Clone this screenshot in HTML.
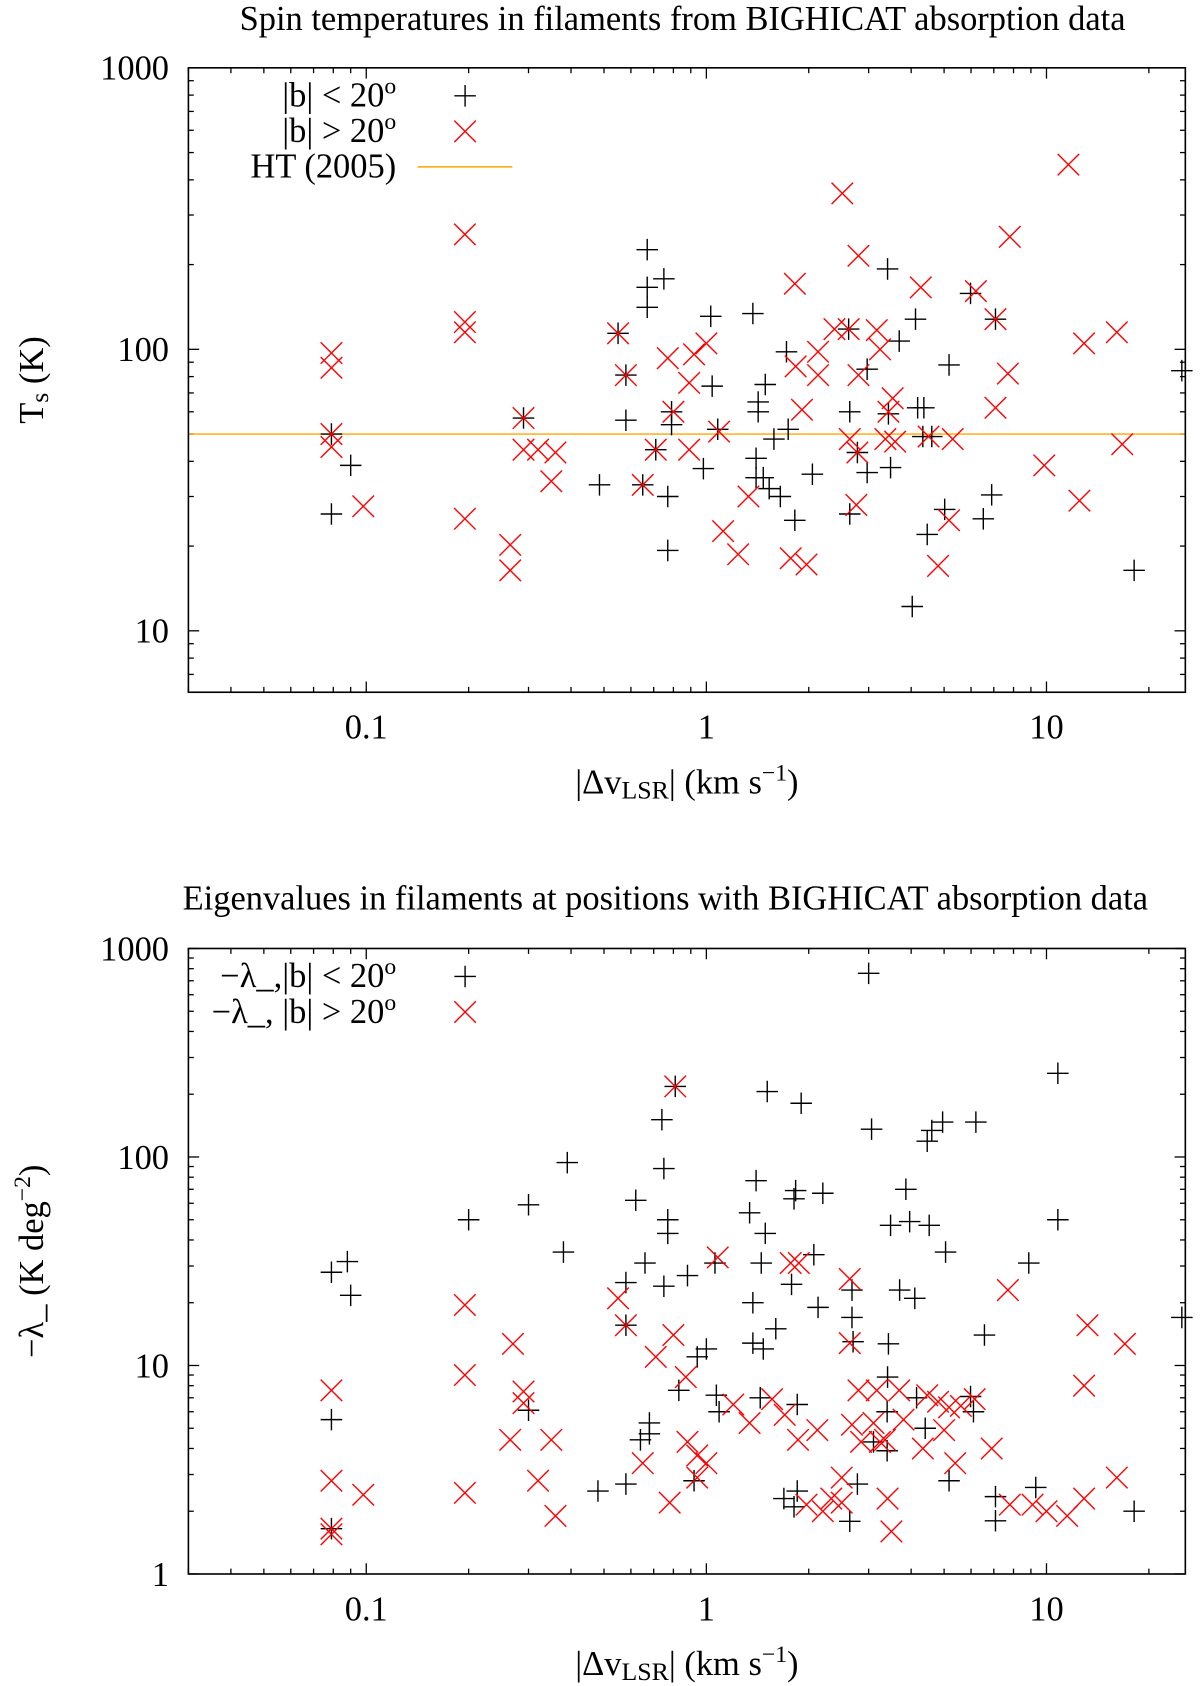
<!DOCTYPE html>
<html><head><meta charset="utf-8">
<style>
html,body{margin:0;padding:0;background:#fff;}
svg{display:block;font-family:"Liberation Serif","DejaVu Serif",serif;}
</style></head>
<body>
<svg id="chart" width="1200" height="1686" viewBox="0 0 1200 1686" xmlns="http://www.w3.org/2000/svg"><g id="root" transform="scale(1.0766)"></g></svg>
<script>
// ---------- data: top panel (spin temperatures) ----------
const topLowX = [0.079,0.079,0.09,0.29,0.485,0.55,0.58,0.58,0.65,0.67,0.67,0.67,0.75,0.71,0.77,0.77,0.79,0.79,0.98,1.03,1.04,1.08,1.37,1.40,1.40,1.42,1.42,1.49,1.47,1.53,1.65,1.58,1.72,1.74,1.82,2.05,2.62,2.64,2.64,2.78,2.97,2.97,3.41,3.43,3.48,3.69,4.12,4.18,4.33,4.36,4.46,4.6,5.17,5.02,4.03,5.98,7.08,6.9,6.52,18.1,25];
const topLowY = [26,50,38.7,57,33,114,81,56,33,226,166,141,178,44,30,19.3,60,54,37.7,131,74,52,134,41,35,65,60,75,35,32,30,48,98,52,24.7,36,118,60,26,43,36.5,85,193,59,38,107,128,62,49,62,22,49,88,27,12.2,158,128,30.4,25,16.4,84];
const topHighX = [0.079,0.079,0.079,0.079,0.098,0.195,0.195,0.195,0.195,0.265,0.265,0.29,0.29,0.32,0.35,0.36,0.55,0.58,0.65,0.71,0.77,0.80,0.89,0.89,0.92,1.0,1.09,1.12,1.24,1.33,1.82,1.77,1.83,1.91,1.97,2.13,2.13,2.38,2.51,2.62,2.64,2.76,2.78,2.8,2.8,3.17,3.24,3.36,3.43,3.53,3.59,4.27,4.5,4.8,5.17,5.3,6.2,7.08,7.08,7.7,7.8,9.85,11.6,12.5,12.9,16.1,16.7];
const topHighY = [97,86,50,45,27.7,256,125,115,25,20.2,16.4,57,44,44,34,43,114,81,33,44,93,60,76,44,96,105,51,22.6,18.7,30,171,18.1,87,61,17.2,81,98,118,358,118,48,28,43,215,81,117,100,48,60,67,47,166,49,17,24.7,48,161,62,128,82,251,38.7,453,29,105,115,46];
const htValue = [50];
// ---------- data: bottom panel (eigenvalues) ----------
const botLowX = [0.079,0.079,0.079,0.088,0.09,0.2,0.3,0.3,0.39,0.38,0.48,0.58,0.58,0.58,0.62,0.64,0.68,0.68,0.66,0.74,0.75,0.75,0.77,0.77,0.81,0.83,0.88,0.94,0.92,1.0,1.06,1.07,1.09,1.34,1.4,1.37,1.37,1.47,1.45,1.49,1.44,1.51,1.6,1.69,1.81,1.81,1.83,1.78,1.85,1.85,1.9,2.07,2.13,2.2,2.68,2.68,2.7,2.78,2.64,3.0,3.06,3.1,3.4,3.4,3.48,3.43,3.41,3.7,3.86,3.96,4.1,4.15,4.46,4.6,4.52,4.4,4.95,5.05,5.17,5.98,6.1,6.2,6.57,7.08,7.08,8.87,9.3,10.8,10.8,18.1,25];
const botLowY = [28,5.5,1.65,31.5,21.7,50,59,6.1,94,35,2.5,25,15.6,2.7,62,4.4,4.7,5.3,31,151,88,24,50,43,218,7.6,27,11,2.8,12,31,7.2,6,54,77,20,12.8,12,31,43,7,206,15,2.3,2.1,63,69,24.5,6.5,2.5,181,34,19,67,23,17,13,2.7,1.79,760,136,4.3,6,3.9,47,12.7,8.8,23,70,49,21,7,119,134,47,5,147,35,2.8,7.1,6,147,14,2.35,1.8,31,2.6,252,50,2.0,17];
const botHighX = [0.079,0.079,0.079,0.079,0.098,0.195,0.195,0.195,0.265,0.27,0.29,0.29,0.32,0.35,0.36,0.55,0.58,0.65,0.71,0.78,0.81,0.8,0.87,0.88,0.94,0.94,1.0,1.08,1.2,1.34,1.56,1.7,1.77,1.86,1.87,1.97,2.12,2.2,2.33,2.5,2.5,2.64,2.64,2.68,2.8,2.85,3.17,3.1,3.24,3.35,3.41,3.5,3.69,3.8,4.33,4.46,4.8,5.0,5.17,5.39,5.6,6.15,6.9,7.7,7.8,9.1,10,11.5,12.9,12.9,13.2,16.1,17];
const botHighY = [7.6,2.8,1.65,1.55,2.4,19.5,9,2.45,4.4,12.7,7.5,6.6,2.8,4.4,1.9,21,15.6,3.4,11,2.2,218,14,8.8,4.3,2.9,3.7,3.4,33,6.5,5.3,6.9,5.8,31,4.4,31,2.15,4.9,2.0,2.3,2.9,2.2,26,12.8,5.2,7.6,4.3,7.6,5.3,4.3,4.4,2.3,1.6,7.6,5.5,4,7.2,6.7,4.9,6.3,3.4,6.4,6.9,4,23,2.15,2.15,2.0,1.9,2.3,8,15.6,2.9,12.7];
const xTickVals = [0.1,1,10];
const xTickLabels = ["0.1","1","10"];
const topYTickVals = [10,100,1000];
const topYTickLabels = ["10","100","1000"];
const botYTickVals = [1,10,100,1000];
const botYTickLabels = ["1","10","100","1000"];

const NS = "http://www.w3.org/2000/svg";
const svg = document.getElementById('root');
const FS = 32;
function mk(tag, attrs, parent){
  const e = document.createElementNS(NS, tag);
  for (const k in attrs) e.setAttribute(k, attrs[k]);
  (parent||svg).appendChild(e);
  return e;
}
function panel(cfg){
  const g = mk('g', {});
  
  
  const L=175, R=1101, T=cfg.top, B=cfg.bottom;
  const xmin=Math.log10(0.03), xmax=Math.log10(25.6);
  const ymin=Math.log10(cfg.ymin), ymax=Math.log10(cfg.ymax);
  const sx = v => L + (Math.log10(v)-xmin)/(xmax-xmin)*(R-L);
  const sy = v => B - (Math.log10(v)-ymin)/(ymax-ymin)*(B-T);
  const t = mk('text', {x:(L+R)/2+(cfg.titleDx||0), y:cfg.titleY, 'text-anchor':'middle', 'font-size':FS, fill:'#000'}, g);
  t.textContent = cfg.title;
  
  
  const tk = mk('g', {stroke:'#000','stroke-width':1.2}, g);
  
  
  for (let d=-2; d<=2; d++){
    for (let m=1; m<10; m++){
      const v = m*Math.pow(10,d);
      if (v<0.03||v>25.6) continue;
      const x = sx(v), len = m===1?10:5;
      mk('line',{x1:x,x2:x,y1:B,y2:B-len},tk);
      mk('line',{x1:x,x2:x,y1:T,y2:T+len},tk);
    }
  }
  for (let d=0; d<=3; d++){
    for (let m=1; m<10; m++){
      const v = m*Math.pow(10,d);
      if (v<cfg.ymin-1e-9||v>cfg.ymax+1e-9) continue;
      const y = sy(v), len = m===1?10:5;
      mk('line',{x1:L,x2:L+len,y1:y,y2:y},tk);
      mk('line',{x1:R,x2:R-len,y1:y,y2:y},tk);
    }
  }
  xTickVals.forEach((v,i)=>{
    const e = mk('text',{x:sx(v),y:B+43,'text-anchor':'middle','font-size':FS},g);
    e.textContent = xTickLabels[i];
    
    
  });
  cfg.yTickVals.forEach((v,i)=>{
    const e = mk('text',{x:157,y:sy(v)+11,'text-anchor':'end','font-size':FS},g);
    e.textContent = cfg.yTickLabels[i];
    
    
  });
  if (cfg.ht){
    const hl = mk('line',{x1:L,x2:R,y1:sy(cfg.ht[0]),y2:sy(cfg.ht[0]),stroke:'#ffa500','stroke-width':1.3},g);
    
    
  }
  const plus = (x,y,p)=>mk('path',{d:`M${x-10},${y}H${x+10}M${x},${y-10}V${y+10}`,stroke:'#000','stroke-width':1.3,fill:'none'},p);
  const cross = (x,y,p)=>mk('path',{d:`M${x-10},${y-10}L${x+10},${y+10}M${x-10},${y+10}L${x+10},${y-10}`,stroke:'#ff0000','stroke-width':1.3,fill:'none'},p);
  const gl = mk('g',{},g);
  
  
  cfg.lowX.forEach((v,i)=>{
    const e = plus(sx(v), sy(cfg.lowY[i]), gl);
    
    
  });
  const gh = mk('g',{},g);
  
  
  cfg.highX.forEach((v,i)=>{
    const e = cross(sx(v), sy(cfg.highY[i]), gh);
    
    
  });
  const br = mk('rect',{x:L,y:T,width:R-L,height:B-T,fill:'none',stroke:'#000','stroke-width':1.5},g);
  
  
  const lg = mk('g',{},g);
  
  
  cfg.legend.forEach((it,i)=>{
    const y = T+26+i*33;
    const tx = mk('text',{x:368,y:y+10,'text-anchor':'end','font-size':FS},lg);
    tx.innerHTML = it.html;
    
    
    let s;
    if (it.kind==='plus') s = plus(432,y,lg);
    else if (it.kind==='cross') s = cross(432,y,lg);
    else s = mk('line',{x1:388,x2:476,y1:y,y2:y,stroke:'#ffa500','stroke-width':1.3},lg);
    
    
  });
  const xl = mk('text',{x:(L+R)/2,y:B+94,'text-anchor':'middle','font-size':FS},g);
  xl.innerHTML = '|Δv<tspan baseline-shift="-20%" font-size="24">LSR</tspan>| (km s<tspan baseline-shift="super" font-size="22">−1</tspan>)';
  
  
  const cy = (T+B)/2;
  const yl = mk('text',{x:0,y:0,'text-anchor':'middle','font-size':FS,transform:`translate(40,${cy}) rotate(-90)`},g);
  yl.innerHTML = cfg.ylabel;
  
  
}
panel({name:'spin-temperature-panel', top:63, bottom:643, ymin:6.05, ymax:1000,
  title:'Spin temperatures in filaments from BIGHICAT absorption data', titleY:28, titleDx:-4,
  yTickVals:topYTickVals, yTickLabels:topYTickLabels,
  lowX:topLowX, lowY:topLowY, highX:topHighX, highY:topHighY, ht:htValue,
  ylabel:'T<tspan baseline-shift="-20%" font-size="24">s</tspan> (K)',
  legend:[{kind:'plus',html:'|b| &lt; 20<tspan baseline-shift="super" font-size="22">o</tspan>'},
          {kind:'cross',html:'|b| &gt; 20<tspan baseline-shift="super" font-size="22">o</tspan>'},
          {kind:'line',html:'HT (2005)'}]});
panel({name:'eigenvalue-panel', top:881, bottom:1462, ymin:1, ymax:1000,
  title:'Eigenvalues in filaments at positions with BIGHICAT absorption data', titleY:845, titleDx:-20,
  yTickVals:botYTickVals, yTickLabels:botYTickLabels,
  lowX:botLowX, lowY:botLowY, highX:botHighX, highY:botHighY, ht:null,
  ylabel:'−λ_ (K deg<tspan baseline-shift="super" font-size="22">−2</tspan>)',
  legend:[{kind:'plus',html:'−λ_,|b| &lt; 20<tspan baseline-shift="super" font-size="22">o</tspan>'},
          {kind:'cross',html:'−λ_, |b| &gt; 20<tspan baseline-shift="super" font-size="22">o</tspan>'}]});
</script>
</body></html>
